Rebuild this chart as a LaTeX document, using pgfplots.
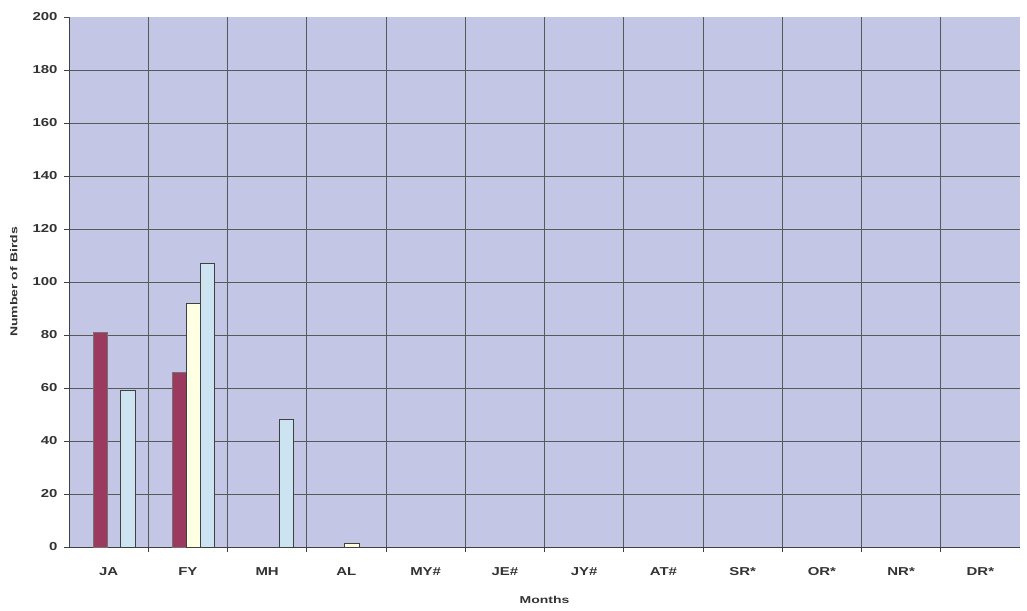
\documentclass[border=0pt]{standalone}
\usepackage{fontspec}
\setmainfont{Liberation Sans}
\usepackage{graphicx}
\usepackage{pgfplots}
\pgfplotsset{compat=1.18}
\definecolor{bg}{RGB}{196,198,230}
\definecolor{maroon}{RGB}{155,58,94}
\definecolor{ylw}{RGB}{255,255,228}
\definecolor{lblue}{RGB}{204,228,242}
\newcommand{\W}[1]{\scalebox{1.3}[1]{#1}}
\begin{document}
\begin{tikzpicture}
\useasboundingbox (-69pt,-63pt) rectangle (958pt,547pt);
\begin{axis}[at={(0,0)}, anchor=south west, scale only axis,
  width=951pt, height=530pt,
  xmin=-0.5, xmax=11.5, ymin=0, ymax=200,
  /pgf/number format/assume math mode=true,
  ytick={0,20,...,180},
  extra y ticks={200},
  extra y tick style={grid=none},
  yticklabel={\W{\pgfmathprintnumber{\tick}}},
  extra y tick labels={\W{200}},
  xtick={0.5,1.5,...,10.5}, xticklabels={},
  extra x ticks={0,1,2,3,4,5,6,7,8,9,10,11},
  extra x tick labels={\W{JA},\W{FY},\W{MH},\W{AL},\W{MY\#},\W{JE\#},\W{JY\#},\W{AT\#},\W{SR*},\W{OR*},\W{NR*},\W{DR*}},
  extra x tick style={grid=none, major tick length=0pt},
  xmajorgrids, ymajorgrids,
  axis x line*=bottom, axis y line*=left,
  axis line style={-, draw=black!75, line width=0.8pt},
  tick align=outside, major tick length=5pt,
  tick style={draw=black!75, line width=0.8pt},
  grid style={black!65, line width=0.8pt},
  axis background/.style={fill=bg},
  ticklabel style={font=\fontsize{11.5}{11.5}\selectfont\bfseries, text=black!80},
  xticklabel style={yshift=-17pt},
  yticklabel style={xshift=-3pt},
  xlabel={\scalebox{1.4}[1]{Months}}, ylabel={\scalebox{1.4}[1]{Number of Birds}},
  xlabel style={at={(axis description cs:0.5,-0.1)}, anchor=center, font=\fontsize{10}{10}\selectfont\bfseries, text=black!80},
  ylabel style={at={(axis description cs:-0.058,0.5)}, anchor=center, font=\fontsize{10}{10}\selectfont\bfseries, text=black!80},
  clip=false,
]
\addplot[ybar, bar width=14.3pt, bar shift=-8.3pt, fill=maroon, draw=black!55, line width=0.6pt] coordinates {(0,81) (1,66)};
\addplot[ybar, bar width=14.3pt, bar shift=5.5pt, fill=ylw, draw=black!75, line width=1pt] coordinates {(1,92) (3,1.3)};
\addplot[ybar, bar width=14.3pt, bar shift=19.4pt, fill=lblue, draw=black!75, line width=1pt] coordinates {(0,59) (1,107) (2,48)};
\end{axis}
\end{tikzpicture}
\end{document}
